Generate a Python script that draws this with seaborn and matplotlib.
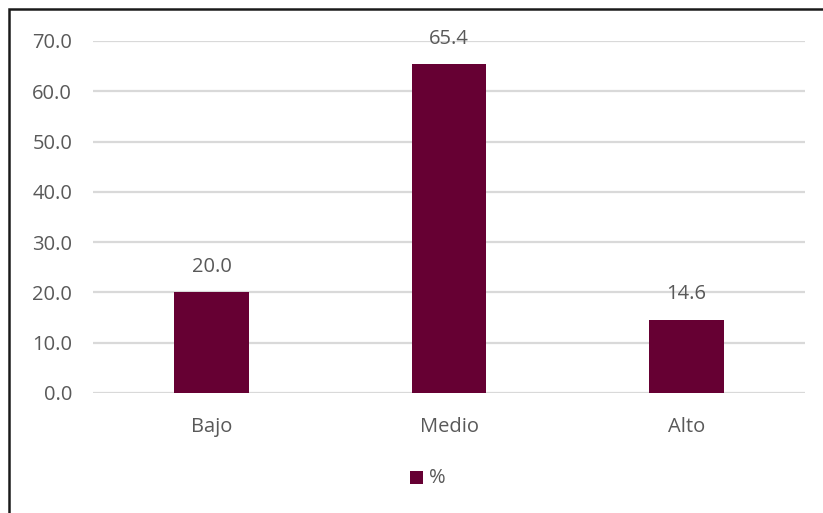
import matplotlib
matplotlib.use("Agg")
import matplotlib.pyplot as plt
import seaborn as sns
import pandas as pd
from matplotlib.patches import Rectangle

categories = ["Bajo", "Medio", "Alto"]
values = [20.0, 65.4, 14.6]
yticks = [0, 10, 20, 30, 40, 50, 60, 70]
series_name = "%"

bar_color = "#660033"
text_color = "#595959"
grid_color = "#d9d9d9"
fs = 14.5

sns.set_theme(style="white")
plt.rcParams["font.family"] = ["Open Sans", "DejaVu Sans"]

W, H = 823, 513
fig = plt.figure(figsize=(W / 100, H / 100), dpi=100)
ax = fig.add_axes([93 / W, 1 - 393 / H, (805 - 93) / W, (393 - 41) / H])

df = pd.DataFrame({"cat": categories, "val": values, "serie": series_name})
sns.barplot(data=df, x="cat", y="val", hue="serie", palette=[bar_color],
            width=0.315, ax=ax, saturation=1, legend=False, zorder=3,
            linewidth=0, edgecolor="none")

ax.set_ylim(0, 70)
ax.set_xlim(-0.5, 2.5)
ax.set_yticks(yticks)
ax.set_yticklabels([f"{v:.1f}" for v in yticks])
ax.yaxis.grid(True, color=grid_color, linewidth=1.6, zorder=0)
ax.set_axisbelow(True)
for s in ax.spines.values():
    s.set_visible(False)
ax.tick_params(axis="y", length=0, pad=15, labelsize=fs, labelcolor=text_color)
ax.tick_params(axis="x", length=0, pad=17, labelsize=fs, labelcolor=text_color)
ax.set_xlabel("")
ax.set_ylabel("")

for i, v in enumerate(values):
    ax.annotate(f"{v:.1f}", xy=(i, v), xytext=(0, 11), textcoords="offset points",
                ha="center", va="bottom", fontsize=fs, color=text_color)

# legend entry below the plot
fig.patches.append(Rectangle((410 / W, 1 - 484 / H), 13 / W, 13 / H,
                             transform=fig.transFigure, facecolor=bar_color,
                             edgecolor="none"))
fig.text(429 / W, 1 - 478 / H, series_name, ha="left", va="center",
         fontsize=fs, color=text_color)

# outer chart frame
fig.patches.append(Rectangle((9 / W, -0.05), 1.2, 1 - 9 / H + 0.05,
                             transform=fig.transFigure, facecolor="none",
                             edgecolor="#1a1a1a", linewidth=1.8))

fig.savefig("out.png", dpi=100)
